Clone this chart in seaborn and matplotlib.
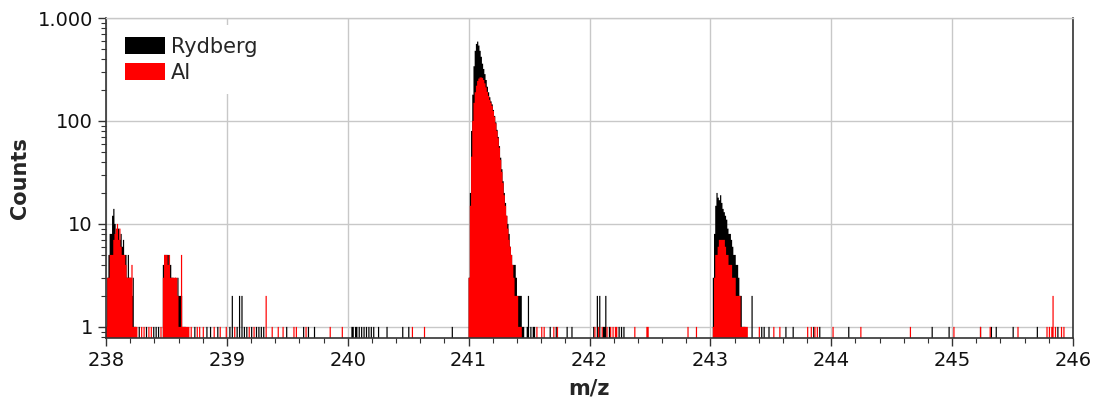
import numpy as np
import pandas as pd
import matplotlib
matplotlib.use("Agg")
import matplotlib.pyplot as plt
import seaborn as sns
from matplotlib.patches import Patch
from matplotlib.ticker import FixedLocator, MultipleLocator, FuncFormatter, LogLocator, NullFormatter

# ---------------------------------------------------------------------------
# Mass spectrum, counts per 0.01 u bin
# ---------------------------------------------------------------------------
BIN = 0.01

# Rydberg ionisation: peak regions (first bin m/z, counts per bin)
ryd_238_start = 238.00
ryd_238 = [1, 3, 5, 8, 8, 12, 14, 10, 8, 9, 9, 7, 8, 6, 7, 5, 5, 3, 5, 3,
           3, 2, 3, 1, 1]
ryd_2385_start = 238.47
ryd_2385 = [4, 5, 5, 5, 5, 4, 4, 3, 3, 2, 3, 2, 3, 2, 2, 2, 1, 1, 1]
ryd_241_start = 241.00
ryd_241 = [3, 20, 80, 180, 340, 480, 560, 590, 540, 480,
           420, 360, 320, 285, 250, 215, 190, 170, 155, 145,
           128, 112, 97, 82, 70, 57, 44, 34, 26, 20,
           16, 12, 10, 8, 6, 5, 4, 4, 4, 3,
           2, 2, 2, 2, 1]
ryd_243_start = 243.02
ryd_243 = [3, 8, 15, 20, 18, 17, 19, 16, 14, 13, 12, 11, 9, 8, 8, 7, 6, 5,
           5, 4, 4, 3, 2, 2, 1, 1, 1]

# Rydberg ionisation: isolated events
ryd_single_mz = [238.275, 238.337, 238.397, 238.419, 238.438, 238.736, 238.833,
                 238.862, 238.921, 239.026, 239.081, 239.142, 239.164, 239.205,
                 239.247, 239.268, 239.288, 239.307, 239.495, 239.632, 239.674,
                 239.729, 240.033, 240.046, 240.061, 240.074, 240.096, 240.115,
                 240.134, 240.157, 240.176, 240.192, 240.211, 240.253, 240.322,
                 240.451, 240.501, 240.868, 241.458, 241.483, 241.514, 241.535,
                 241.549, 241.673, 241.723, 241.811, 241.853, 242.031, 242.114,
                 242.128, 242.164, 242.247, 242.266, 242.283, 243.425, 243.444,
                 243.485, 243.626, 243.681, 243.852, 243.901, 244.149, 244.839,
                 244.977, 245.231, 245.327, 245.363, 245.501, 245.703, 245.878]
ryd_double_mz = [239.048, 239.109, 239.122, 241.494, 242.068, 242.087,
                 242.137, 243.342]

# Auto-ionisation (AI): peak regions
ai_238_start = 238.00
ai_238 = [1, 3, 3, 5, 5, 5, 7, 8, 9, 10, 7, 9, 6, 5, 5, 5, 4, 3, 3, 3,
          3, 4, 1, 1, 1]
ai_2385_start = 238.47
ai_2385 = [3, 5, 5, 5, 4, 5, 3, 3, 3, 3, 3, 3, 2, 1, 1, 5, 1, 1, 1, 1, 1, 1]
ai_241_start = 241.00
ai_241 = [3, 15, 45, 100, 150, 190, 220, 245, 258, 265,
          265, 262, 250, 232, 212, 192, 175, 160, 150, 140,
          125, 110, 95, 80, 68, 55, 42, 32, 25, 19,
          15, 12, 9, 7, 6, 5, 4, 3, 2, 2,
          2, 1, 1, 1]
ai_243_start = 243.02
ai_243 = [1, 3, 5, 5, 6, 7, 7, 7, 7, 7, 6, 5, 5, 4, 4, 4, 3, 3, 3, 2,
          2, 2, 2, 1, 1, 1, 1, 1, 1]

# Auto-ionisation (AI): isolated events
ai_single_mz = [238.259, 238.295, 238.317, 238.356, 238.378, 238.455, 238.702,
                238.755, 238.778, 238.805, 238.896, 238.943, 238.993, 239.061,
                239.183, 239.224, 239.379, 239.425, 239.462, 239.553, 239.578,
                239.652, 239.853, 239.952, 240.537, 240.639, 241.563, 241.605,
                241.626, 241.703, 241.734, 242.046, 242.073, 242.101, 242.147,
                242.178, 242.197, 242.211, 242.225, 242.376, 242.473, 242.486,
                242.817, 242.887, 243.405, 243.521, 243.576, 243.802, 243.832,
                243.866, 243.885, 244.012, 244.244, 244.652, 245.018, 245.231,
                245.313, 245.542, 245.782, 245.802, 245.821, 245.857, 245.901,
                245.921]
ai_double_mz = [239.329, 245.837]

x_ticks = [238, 239, 240, 241, 242, 243, 244, 245, 246]
y_ticks = [1, 10, 100, 1000]
y_tick_labels = ["1", "10", "100", "1.000"]


def assemble(peaks, singles, doubles, name):
    """Collect peak bins and isolated events into one long table."""
    mz, cnt = [], []
    for start, counts in peaks:
        for i, c in enumerate(counts):
            mz.append(start + BIN * i + BIN / 2)
            cnt.append(c)
    mz += list(singles) + list(doubles)
    cnt += [1] * len(singles) + [2] * len(doubles)
    return pd.DataFrame({"mz": mz, "counts": cnt, "mode": name})


ryd = assemble([(ryd_238_start, ryd_238), (ryd_2385_start, ryd_2385),
                (ryd_241_start, ryd_241), (ryd_243_start, ryd_243)],
               ryd_single_mz, ryd_double_mz, "Rydberg")
ai = assemble([(ai_238_start, ai_238), (ai_2385_start, ai_2385),
               (ai_241_start, ai_241), (ai_243_start, ai_243)],
              ai_single_mz, ai_double_mz, "AI")

colors = {"Rydberg": "#000000", "AI": "#ff0000"}

sns.set_theme(style="white")
plt.rcParams["font.family"] = ["DejaVu Sans"]

fig = plt.figure(figsize=(10.97, 4.03), dpi=100)
ax = fig.add_axes([106 / 1097, 1 - 338 / 403, (1073 - 106) / 1097, (338 - 18) / 403])

for df in (ryd, ai):
    name = df["mode"].iloc[0]
    sns.histplot(data=df, x="mz", weights="counts", binwidth=BIN,
                 binrange=(238, 246), element="step", fill=True,
                 color=colors[name], alpha=1.0, linewidth=0, ax=ax, zorder=2)

ax.set_yscale("log")
ax.set_xlim(238, 246)
ax.set_ylim(0.78, 1000)

# grid
ax.set_axisbelow(True)
ax.grid(True, which="major", color="#c8c8c8", linewidth=1.0)
ax.xaxis.set_major_locator(FixedLocator(x_ticks))
ax.xaxis.set_minor_locator(MultipleLocator(0.2))
ax.yaxis.set_major_locator(FixedLocator(y_ticks))
ax.yaxis.set_major_formatter(FuncFormatter(
    lambda v, p: y_tick_labels[y_ticks.index(int(round(v)))] if int(round(v)) in y_ticks else ""))
ax.yaxis.set_minor_locator(LogLocator(base=10, subs=np.arange(2, 10), numticks=20))
ax.yaxis.set_minor_formatter(NullFormatter())
ax.grid(False, which="minor")

ax.tick_params(axis="both", which="major", direction="out", length=6, width=1,
               color="#333333", labelsize=14, labelcolor="#111111",
               bottom=True, left=True)
ax.tick_params(axis="both", which="minor", direction="out", length=3.5, width=0.8,
               color="#333333", bottom=True, left=True)

for side in ("left", "bottom"):
    ax.spines[side].set_color("#333333")
    ax.spines[side].set_linewidth(1.2)
ax.spines["right"].set_color("#333333")
ax.spines["right"].set_linewidth(1.2)
ax.spines["top"].set_color("#c8c8c8")
ax.spines["top"].set_linewidth(1.0)

ax.set_xlabel("m/z", fontsize=15, fontweight="bold", labelpad=6)
ax.set_ylabel("Counts", fontsize=15, fontweight="bold", labelpad=5)

handles = [Patch(facecolor=colors["Rydberg"], edgecolor="none", label="Rydberg"),
           Patch(facecolor=colors["AI"], edgecolor="none", label="AI")]
leg = ax.legend(handles=handles, loc="upper left", bbox_to_anchor=(0.0, 1.0),
                fontsize=15, frameon=True, facecolor="white", edgecolor="none",
                framealpha=1.0, handlelength=1.95, handleheight=0.85,
                handletextpad=0.25, labelspacing=0.3, borderpad=0.55,
                borderaxespad=0.35, fancybox=False)
leg.set_zorder(5)

fig.savefig("out.png", dpi=100)
